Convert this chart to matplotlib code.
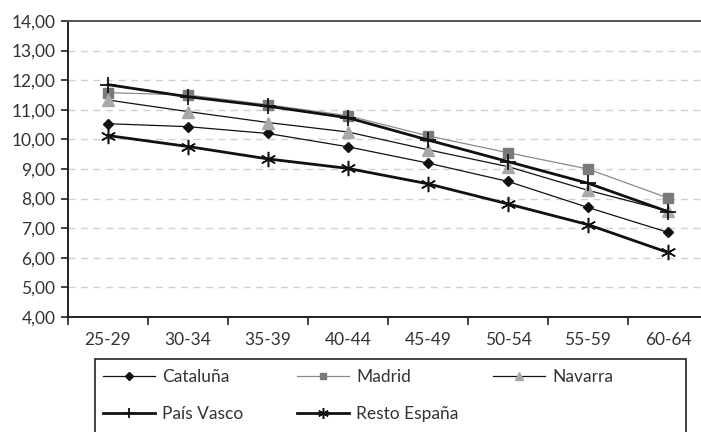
import matplotlib
matplotlib.use("Agg")
import matplotlib.pyplot as plt
from matplotlib.patches import Rectangle
from matplotlib.ticker import FixedLocator, NullFormatter

plt.rcParams["font.family"] = ["Lato", "DejaVu Sans"]

ages = ["25-29", "30-34", "35-39", "40-44", "45-49", "50-54", "55-59", "60-64"]

cataluna = [10.53, 10.43, 10.20, 9.75, 9.20, 8.58, 7.70, 6.86]
madrid = [11.58, 11.50, 11.17, 10.80, 10.12, 9.55, 9.00, 8.02]
navarra = [11.33, 10.94, 10.57, 10.25, 9.65, 9.08, 8.28, 7.58]
pais_vasco = [11.85, 11.44, 11.12, 10.73, 9.98, 9.25, 8.52, 7.56]
resto = [10.13, 9.76, 9.34, 9.02, 8.50, 7.82, 7.12, 6.18]

W, H = 701, 432
fig = plt.figure(figsize=(W / 100, H / 100), dpi=100)
ax = fig.add_axes([68 / W, 1 - 317 / H, (W - 68) / W, (317 - 21) / H])

x = list(range(len(ages)))
l_cat, = ax.plot(x, cataluna, color="#111111", lw=0.9, marker="D", ms=5.5,
                 mfc="#111111", mec="#111111", label="Cataluña", zorder=3)
l_mad, = ax.plot(x, madrid, color="#8a8a8a", lw=0.9, marker="s", ms=7,
                 mfc="#7a7a7a", mec="#7a7a7a", label="Madrid", zorder=3)
l_nav, = ax.plot(x, navarra, color="#111111", lw=0.9, marker="^", ms=8,
                 mfc="#a8a8a8", mec="#a8a8a8", label="Navarra", zorder=3)
l_pv, = ax.plot(x, pais_vasco, color="#111111", lw=2.0, marker="+", ms=11,
                mew=1.3, label="País Vasco", zorder=4)
l_res, = ax.plot(x, resto, color="#111111", lw=2.0, marker=(6, 2, 0), ms=11,
                 mew=1.1, label="Resto España", zorder=4)

ax.set_xlim(-0.5, -0.5 + (W - 68) / 80)
ax.set_ylim(4, 14)
ax.set_yticks([4 + i for i in range(11)])
ax.set_yticklabels([f"{4 + i},00" for i in range(11)])

ax.xaxis.set_major_locator(FixedLocator([i - 0.5 for i in range(len(ages))]))
ax.xaxis.set_major_formatter(NullFormatter())
ax.xaxis.set_minor_locator(FixedLocator(x))
ax.set_xticklabels(ages, minor=True)
ax.tick_params(axis="x", which="major", direction="out", length=6, width=1.2, color="#222222")
ax.tick_params(axis="x", which="minor", length=0, pad=11, labelsize=12.5, labelcolor="#333333")
ax.tick_params(axis="y", direction="out", length=5, width=1.2, color="#222222",
               pad=4, labelsize=12.5, labelcolor="#333333")

for v in range(5, 14):
    ax.axhline(v, color="#d0d0d0", lw=1.0, ls=(0, (5, 4)), zorder=1)

for side in ["left", "bottom"]:
    ax.spines[side].set_color("#222222")
    ax.spines[side].set_linewidth(1.4)
ax.spines["top"].set_color("#555555")
ax.spines["top"].set_linewidth(1.4)
ax.spines["right"].set_visible(False)

# legend box, runs off the bottom of the picture
fig.patches.append(Rectangle((95 / W, -0.05), (686 - 95) / W, (1 - 359 / H) + 0.05,
                             transform=fig.transFigure, fill=False,
                             edgecolor="#222222", lw=1.2, clip_on=False))

cols = [([l_cat, l_pv], 103), ([l_mad, l_res], 297), ([l_nav], 493)]
for handles, px in cols:
    fig.legend(handles=handles, loc="upper left",
               bbox_to_anchor=(px / W, 1 - 369 / H), frameon=False,
               borderpad=0, borderaxespad=0, handlelength=3.0,
               handletextpad=0.4, labelspacing=1.2, fontsize=12.5,
               markerscale=0.7, labelcolor="#333333")

fig.savefig("out.png", dpi=100)
